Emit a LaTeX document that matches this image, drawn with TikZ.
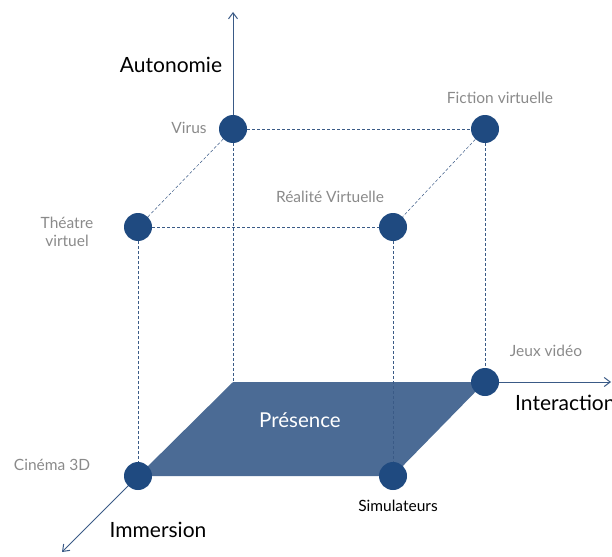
\documentclass[tikz,border=0pt]{standalone}
\usepackage{fontspec}
\setmainfont{Lato}
\usetikzlibrary{arrows.meta, positioning}
\definecolor{dotblue}{HTML}{1F4A80}
\definecolor{planeblue}{HTML}{4B6B95}
\definecolor{axisblue}{HTML}{3A5A86}
\definecolor{lblgray}{HTML}{8A8A8A}
\tikzset{
  dot/.style={circle, fill=dotblue, inner sep=0pt, minimum size=28pt},
  guide/.style={densely dashed, axisblue, line width=0.5pt},
  axis/.style={axisblue, line width=1pt, -{Straight Barb[length=6pt,width=9pt]}},
  lbl/.style={lblgray, font=\fontsize{15.5}{18}\selectfont, align=center},
  axislbl/.style={black, font=\fontsize{21}{24}\selectfont}
}
\begin{document}
\begin{tikzpicture}[x=1pt, y=-1pt]
\useasboundingbox (0,0) rectangle (612,556);
% corners of the cube
\coordinate (o) at (233,382);
\coordinate (top) at (233,12);
\coordinate (right) at (611,382);
\coordinate (front) at (62,552);

\fill[planeblue] (233,382) -- (485,382) -- (393,476) -- (138,476) -- cycle;

\node[dot] (virus) at (233,129) {};
\node[dot] (fiction) at (485,129) {};
\node[dot] (theatre) at (138,227) {};
\node[dot] (realite) at (393,227) {};
\node[dot] (jeux) at (485,382) {};
\node[dot] (cinema) at (138,476) {};
\node[dot] (simul) at (393,476) {};

% dashed edges
\draw[guide] (virus) -- (fiction);
\draw[guide] (virus) -- (theatre);
\draw[guide] (fiction) -- (realite);
\draw[guide] (theatre) -- (realite);
\draw[guide] (theatre) -- (cinema);
\draw[guide] (realite) -- (simul);
\draw[guide] (fiction) -- (jeux);
\draw[guide] (virus) -- (o);

% axes
\draw[axis] (virus) -- (top);
\draw[axis] (jeux) -- (right);
\draw[axis] (cinema) -- (front);

\node[axislbl] (lauto) at (171,65) {Autonomie};
\node[axislbl, anchor=west, inner sep=0pt] (linter) at (515,403) {Interaction};
\node[axislbl] (limm) at (158,530) {Immersion};
\node[white, font=\fontsize{20.5}{24}\selectfont] (lpres) at (300,420) {Présence};

\node[lbl] (lvirus) at (189,128) {Virus};
\node[lbl] (lfiction) at (500,98) {Fiction virtuelle};
\node[lbl] (lrealite) at (330,197) {Réalité Virtuelle};
\node[lbl] (ltheatre) at (67,232) {Théatre\\virtuel};
\node[lbl] (ljeux) at (546,351) {Jeux vidéo};
\node[lbl] (lcinema) at (52,465) {Cinéma 3D};
\node[black, font=\fontsize{15.5}{18}\selectfont] (lsimul) at (398,506) {Simulateurs};
\end{tikzpicture}
\end{document}
